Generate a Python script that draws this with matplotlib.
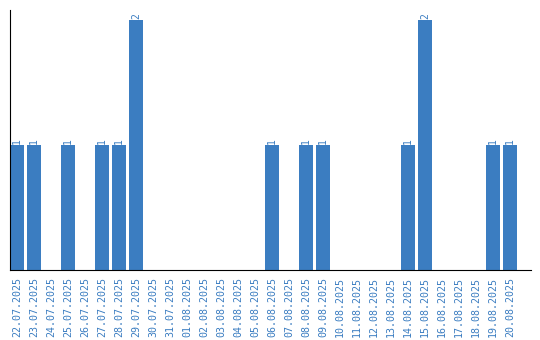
import matplotlib.pyplot as plt

dates = ["22.07.2025", "23.07.2025", "24.07.2025", "25.07.2025", "26.07.2025",
         "27.07.2025", "28.07.2025", "29.07.2025", "30.07.2025", "31.07.2025",
         "01.08.2025", "02.08.2025", "03.08.2025", "04.08.2025", "05.08.2025",
         "06.08.2025", "07.08.2025", "08.08.2025", "09.08.2025", "10.08.2025",
         "11.08.2025", "12.08.2025", "13.08.2025", "14.08.2025", "15.08.2025",
         "16.08.2025", "17.08.2025", "18.08.2025", "19.08.2025", "20.08.2025"]
counts = [1, 1, 0, 1, 0, 1, 1, 2, 0, 0,
          0, 0, 0, 0, 0, 1, 0, 1, 1, 0,
          0, 0, 0, 1, 2, 0, 0, 0, 1, 1]

blue = "#3b7dc1"

fig = plt.figure(figsize=(5.4, 3.4), dpi=100)
ax = fig.add_axes([10 / 540, 70 / 340, 521 / 540, 260 / 340])

x = range(len(dates))
ax.bar(x, counts, width=0.82, color=blue)

for i, c in enumerate(counts):
    if c > 0:
        ax.text(i, c + 0.01, str(c), rotation=90, ha="center", va="bottom",
                color=blue, fontsize=7, family="DejaVu Sans Mono")

ax.set_xlim(-0.41, 30.24)
ax.set_ylim(0, 2.08)
ax.set_xticks(list(x))
ax.set_xticklabels(dates, rotation=90, color=blue, fontsize=7.2, family="DejaVu Sans Mono")
ax.tick_params(axis="x", length=0, pad=5)
ax.set_yticks([])
ax.spines["top"].set_visible(False)
ax.spines["right"].set_visible(False)

fig.savefig("out.png", dpi=100)
